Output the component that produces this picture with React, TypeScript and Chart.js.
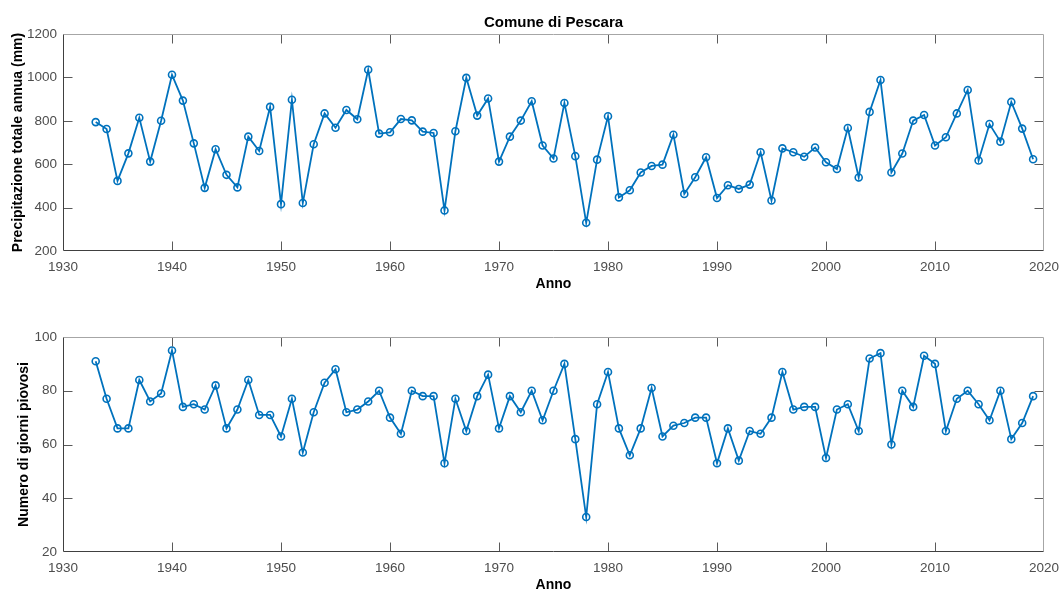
import React, { useEffect, useRef } from "react";
import { Chart, registerables } from "chart.js";

Chart.register(...registerables);

const years = [
  1933, 1934, 1935, 1936, 1937, 1938, 1939, 1940, 1941, 1942,
  1943, 1944, 1945, 1946, 1947, 1948, 1949, 1950, 1951, 1952,
  1953, 1954, 1955, 1956, 1957, 1958, 1959, 1960, 1961, 1962,
  1963, 1964, 1965, 1966, 1967, 1968, 1969, 1970, 1971, 1972,
  1973, 1974, 1975, 1976, 1977, 1978, 1979, 1980, 1981, 1982,
  1983, 1984, 1985, 1986, 1987, 1988, 1989, 1990, 1991, 1992,
  1993, 1994, 1995, 1996, 1997, 1998, 1999, 2000, 2001, 2002,
  2003, 2004, 2005, 2006, 2007, 2008, 2009, 2010, 2011, 2012,
  2013, 2014, 2015, 2016, 2017, 2018, 2019,
];

const precipitation = [
  794, 762, 523, 650, 814, 612, 800, 1012, 893, 696,
  491, 669, 551, 493, 727, 661, 864, 416, 897, 421,
  692, 834, 768, 850, 807, 1035, 741, 747, 808, 802,
  750, 744, 387, 752, 998, 824, 903, 612, 727, 801,
  890, 686, 626, 882, 637, 330, 621, 821, 447, 480,
  562, 592, 598, 736, 463, 540, 632, 444, 503, 486,
  506, 655, 433, 673, 655, 634, 677, 609, 578, 767,
  539, 841, 988, 562, 649, 801, 827, 686, 724, 834,
  942, 617, 785, 704, 887, 764, 623,
];

const rainyDays = [
  91, 77, 66, 66, 84, 76, 79, 95, 74, 75,
  73, 82, 66, 73, 84, 71, 71, 63, 77, 57,
  72, 83, 88, 72, 73, 76, 80, 70, 64, 80,
  78, 78, 53, 77, 65, 78, 86, 66, 78, 72,
  80, 69, 80, 90, 62, 33, 75, 87, 66, 56,
  66, 81, 63, 67, 68, 70, 70, 53, 66, 54,
  65, 64, 70, 87, 73, 74, 74, 55, 73, 75,
  65, 92, 94, 60, 80, 74, 93, 90, 65, 77,
  80, 75, 69, 80, 62, 68, 78,
];

const xTicks = [1930, 1940, 1950, 1960, 1970, 1980, 1990, 2000, 2010, 2020];
const precipTicks = [200, 400, 600, 800, 1000, 1200];
const daysTicks = [20, 40, 60, 80, 100];

const FONT = '"Liberation Sans", Arial, Helvetica, sans-serif';
const LINE = "#0072BD";
const TICK_COLOR = "#4d4d4d";
const W = 1063;

const matlabFrame = {
  id: "matlabFrame",
  afterDraw(chart: any) {
    const { ctx, chartArea } = chart;
    const L = Math.round(chartArea.left) + 0.5;
    const R = Math.round(chartArea.right) - 0.5;
    const T = Math.round(chartArea.top) + 0.5;
    const B = Math.round(chartArea.bottom) - 0.5;
    const tl = 9;
    ctx.save();
    ctx.lineWidth = 1;
    ctx.strokeStyle = "#5a5a5a";
    ctx.beginPath();
    const xs = chart.scales.x;
    xs.ticks.forEach((t: any) => {
      const px = Math.round(xs.getPixelForValue(t.value)) + 0.5;
      if (px <= L + 1 || px >= R - 1) return;
      ctx.moveTo(px, B);
      ctx.lineTo(px, B - tl);
      ctx.moveTo(px, T);
      ctx.lineTo(px, T + tl);
    });
    const ys = chart.scales.y;
    ys.ticks.forEach((t: any) => {
      const py = Math.round(ys.getPixelForValue(t.value)) + 0.5;
      if (py <= T + 1 || py >= B - 1) return;
      ctx.moveTo(L, py);
      ctx.lineTo(L + tl, py);
      ctx.moveTo(R, py);
      ctx.lineTo(R - tl, py);
    });
    ctx.stroke();
    ctx.strokeStyle = "#a6a6a6";
    ctx.beginPath();
    ctx.moveTo(L, T);
    ctx.lineTo(R, T);
    ctx.lineTo(R, B);
    ctx.stroke();
    ctx.strokeStyle = "#404040";
    ctx.beginPath();
    ctx.moveTo(L, T);
    ctx.lineTo(L, B);
    ctx.lineTo(R, B);
    ctx.stroke();
    ctx.restore();
  },
};

type PanelProps = {
  values: number[];
  yTicks: number[];
  yLabel: string;
  title?: string;
  height: number;
  top: number;
  padTop: number;
  xScaleHeight: number;
  xTitlePadBottom: number;
  yTitlePad: number;
};

function Panel(p: PanelProps) {
  const ref = useRef<HTMLCanvasElement | null>(null);
  useEffect(() => {
    if (!ref.current) return;
    const chart = new Chart(ref.current, {
      type: "line",
      data: {
        datasets: [
          {
            data: years.map((yr, i) => ({ x: yr, y: p.values[i] })),
            borderColor: LINE,
            borderWidth: 1.8,
            pointRadius: 3.5,
            pointBorderWidth: 1.6,
            pointBorderColor: LINE,
            pointBackgroundColor: "rgba(255,255,255,0)",
            tension: 0,
            fill: false,
          },
        ],
      },
      options: {
        responsive: false,
        animation: false,
        devicePixelRatio: 1,
        layout: { padding: { left: 0, right: 19, top: p.title ? 0 : p.padTop, bottom: 0 } },
        plugins: {
          legend: { display: false },
          tooltip: { enabled: false },
          title: p.title
            ? {
                display: true,
                text: p.title,
                fullSize: false,
                color: "#000",
                font: { family: FONT, size: 15, weight: "bold" },
                padding: { top: 13.5, bottom: 34 - 18 - 13.5 },
              }
            : { display: false },
        },
        scales: {
          x: {
            type: "linear",
            min: xTicks[0],
            max: xTicks[xTicks.length - 1],
            afterBuildTicks: (s: any) => {
              s.ticks = xTicks.map((v) => ({ value: v }));
            },
            afterFit: (s: any) => {
              s.height = p.xScaleHeight;
              s.paddingLeft = 0;
              s.paddingRight = 0;
            },
            grid: { display: false, drawTicks: false },
            border: { display: false },
            ticks: {
              autoSkip: false,
              maxRotation: 0,
              padding: 8,
              color: TICK_COLOR,
              font: { family: FONT, size: 13.5 },
              callback: (v: any) => String(v),
            },
            title: {
              display: true,
              text: "Anno",
              color: "#000",
              font: { family: FONT, size: 14, weight: "bold" },
              padding: { top: 0, bottom: p.xTitlePadBottom },
            },
          },
          y: {
            type: "linear",
            min: p.yTicks[0],
            max: p.yTicks[p.yTicks.length - 1],
            afterBuildTicks: (s: any) => {
              s.ticks = p.yTicks.map((v) => ({ value: v }));
            },
            afterFit: (s: any) => {
              s.width = 63;
              s.paddingTop = 0;
              s.paddingBottom = 0;
            },
            grid: { display: false, drawTicks: false },
            border: { display: false },
            ticks: {
              autoSkip: false,
              padding: 6,
              color: TICK_COLOR,
              font: { family: FONT, size: 13.5 },
              callback: (v: any) => String(v),
            },
            title: {
              display: true,
              text: p.yLabel,
              color: "#000",
              font: { family: FONT, size: 14, weight: "bold" },
              padding: { top: p.yTitlePad, bottom: 0 },
            },
          },
        },
      } as any,
      plugins: [matlabFrame],
    });
    return () => chart.destroy();
  }, []);
  return (
    <canvas
      ref={ref}
      width={W}
      height={p.height}
      style={{ position: "absolute", left: 0, top: p.top, width: W, height: p.height }}
    />
  );
}

export default function App() {
  return (
    <div
      style={{
        position: "fixed",
        left: 0,
        top: 0,
        width: W,
        height: 593,
        overflow: "hidden",
        background: "#fff",
      }}
    >
      <Panel
        values={precipitation}
        yTicks={precipTicks}
        yLabel="Precipitazione totale annua (mm)"
        title="Comune di Pescara"
        height={296}
        top={0}
        padTop={0}
        xScaleHeight={45}
        xTitlePadBottom={3.3}
        yTitlePad={9.5}
      />
      <Panel
        values={rainyDays}
        yTicks={daysTicks}
        yLabel="Numero di giorni piovosi"
        height={304}
        top={296}
        padTop={41}
        xScaleHeight={48}
        xTitlePadBottom={6}
        yTitlePad={15.4}
      />
    </div>
  );
}
